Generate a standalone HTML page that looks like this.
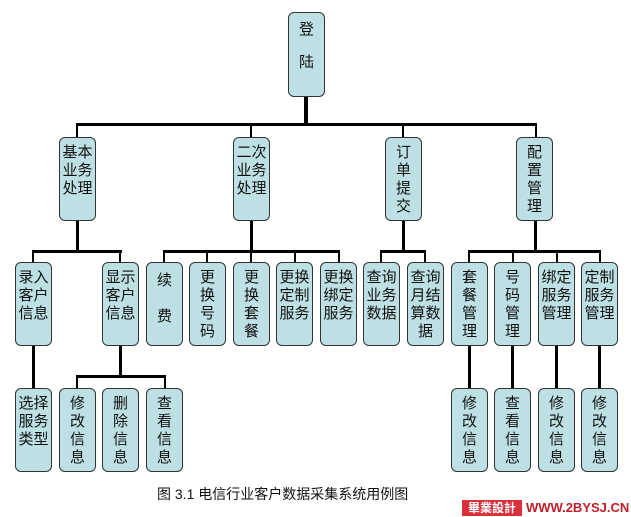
<!DOCTYPE html>
<html><head><meta charset="utf-8"><style>
body{margin:0;width:631px;height:517px;background:#fff;position:relative;overflow:hidden;font-family:"Liberation Sans","Noto Sans CJK SC","WenQuanYi Zen Hei",sans-serif}
.b{position:absolute;width:37px;height:84px;background:#bde0e4;border:1px solid #333;border-radius:6px;box-sizing:border-box;text-align:center;font-size:15px;line-height:18px;padding-top:6px;color:#111}
.l{position:absolute;background:#000}
</style></head><body>
<div class="l" style="left:304px;top:96px;width:4px;height:30px"></div>
<div class="l" style="left:76px;top:123px;width:461px;height:3px"></div>
<div class="l" style="left:76px;top:123px;width:2px;height:14px"></div>
<div class="l" style="left:250px;top:123px;width:2px;height:14px"></div>
<div class="l" style="left:402px;top:123px;width:2px;height:14px"></div>
<div class="l" style="left:535px;top:123px;width:2px;height:14px"></div>
<div class="l" style="left:76px;top:220px;width:3px;height:31px"></div>
<div class="l" style="left:32px;top:250px;width:90px;height:3px"></div>
<div class="l" style="left:32px;top:250px;width:2px;height:12px"></div>
<div class="l" style="left:119px;top:250px;width:2px;height:12px"></div>
<div class="l" style="left:250px;top:220px;width:3px;height:31px"></div>
<div class="l" style="left:163px;top:250px;width:177px;height:3px"></div>
<div class="l" style="left:163px;top:250px;width:2px;height:12px"></div>
<div class="l" style="left:206px;top:250px;width:2px;height:12px"></div>
<div class="l" style="left:250px;top:250px;width:2px;height:12px"></div>
<div class="l" style="left:294px;top:250px;width:2px;height:12px"></div>
<div class="l" style="left:338px;top:250px;width:2px;height:12px"></div>
<div class="l" style="left:402px;top:220px;width:3px;height:31px"></div>
<div class="l" style="left:380px;top:250px;width:46px;height:3px"></div>
<div class="l" style="left:380px;top:250px;width:2px;height:12px"></div>
<div class="l" style="left:424px;top:250px;width:2px;height:12px"></div>
<div class="l" style="left:534px;top:220px;width:3px;height:31px"></div>
<div class="l" style="left:468px;top:250px;width:133px;height:3px"></div>
<div class="l" style="left:468px;top:250px;width:2px;height:12px"></div>
<div class="l" style="left:512px;top:250px;width:2px;height:12px"></div>
<div class="l" style="left:556px;top:250px;width:2px;height:12px"></div>
<div class="l" style="left:599px;top:250px;width:2px;height:12px"></div>
<div class="l" style="left:32px;top:346px;width:3px;height:42px"></div>
<div class="l" style="left:119px;top:346px;width:3px;height:31px"></div>
<div class="l" style="left:76px;top:375px;width:90px;height:3px"></div>
<div class="l" style="left:76px;top:375px;width:2px;height:13px"></div>
<div class="l" style="left:164px;top:375px;width:2px;height:13px"></div>
<div class="l" style="left:468px;top:346px;width:3px;height:42px"></div>
<div class="l" style="left:511px;top:346px;width:3px;height:42px"></div>
<div class="l" style="left:555px;top:346px;width:3px;height:42px"></div>
<div class="l" style="left:598px;top:346px;width:3px;height:42px"></div>

<div class="b" style="left:288px;top:12px;height:85px;line-height:33px;padding-top:0">登<br>陆</div>
<div class="b" style="left:59px;top:137px">基本<br>业务<br>处理</div>
<div class="b" style="left:233px;top:137px">二次<br>业务<br>处理</div>
<div class="b" style="left:385px;top:137px">订<br>单<br>提<br>交</div>
<div class="b" style="left:516px;top:137px">配<br>置<br>管<br>理</div>

<div class="b" style="left:15px;top:262px">录入<br>客户<br>信息</div>
<div class="b" style="left:102px;top:262px">显示<br>客户<br>信息</div>
<div class="b" style="left:146px;top:262px;line-height:36px;padding-top:0">续<br>费</div>
<div class="b" style="left:189px;top:262px">更<br>换<br>号<br>码</div>
<div class="b" style="left:233px;top:262px">更<br>换<br>套<br>餐</div>
<div class="b" style="left:276px;top:262px">更换<br>定制<br>服务</div>
<div class="b" style="left:320px;top:262px">更换<br>绑定<br>服务</div>
<div class="b" style="left:363px;top:262px">查询<br>业务<br>数据</div>
<div class="b" style="left:407px;top:262px">查询<br>月结<br>算数<br>据</div>
<div class="b" style="left:451px;top:262px">套<br>餐<br>管<br>理</div>
<div class="b" style="left:494px;top:262px">号<br>码<br>管<br>理</div>
<div class="b" style="left:538px;top:262px">绑定<br>服务<br>管理</div>
<div class="b" style="left:581px;top:262px">定制<br>服务<br>管理</div>

<div class="b" style="left:15px;top:388px">选择<br>服务<br>类型</div>
<div class="b" style="left:59px;top:388px">修<br>改<br>信<br>息</div>
<div class="b" style="left:102px;top:388px">删<br>除<br>信<br>息</div>
<div class="b" style="left:146px;top:388px">查<br>看<br>信<br>息</div>
<div class="b" style="left:451px;top:388px">修<br>改<br>信<br>息</div>
<div class="b" style="left:494px;top:388px">查<br>看<br>信<br>息</div>
<div class="b" style="left:538px;top:388px">修<br>改<br>信<br>息</div>
<div class="b" style="left:581px;top:388px">修<br>改<br>信<br>息</div>

<div style="position:absolute;left:157px;top:484px;font-size:14px;color:#111;white-space:nowrap">图 3.1 电信行业客户数据采集系统用例图</div>
<div style="position:absolute;left:462px;top:500px;width:60px;height:16px;background:#d9303a;color:#fff;font-size:12px;font-weight:bold;line-height:16px;text-align:center">畢業設計</div>
<div style="position:absolute;left:526px;top:500px;font-size:13px;font-weight:bold;color:#c0202a;line-height:16px;white-space:nowrap">WWW.2BYSJ.CN</div>
</body></html>
